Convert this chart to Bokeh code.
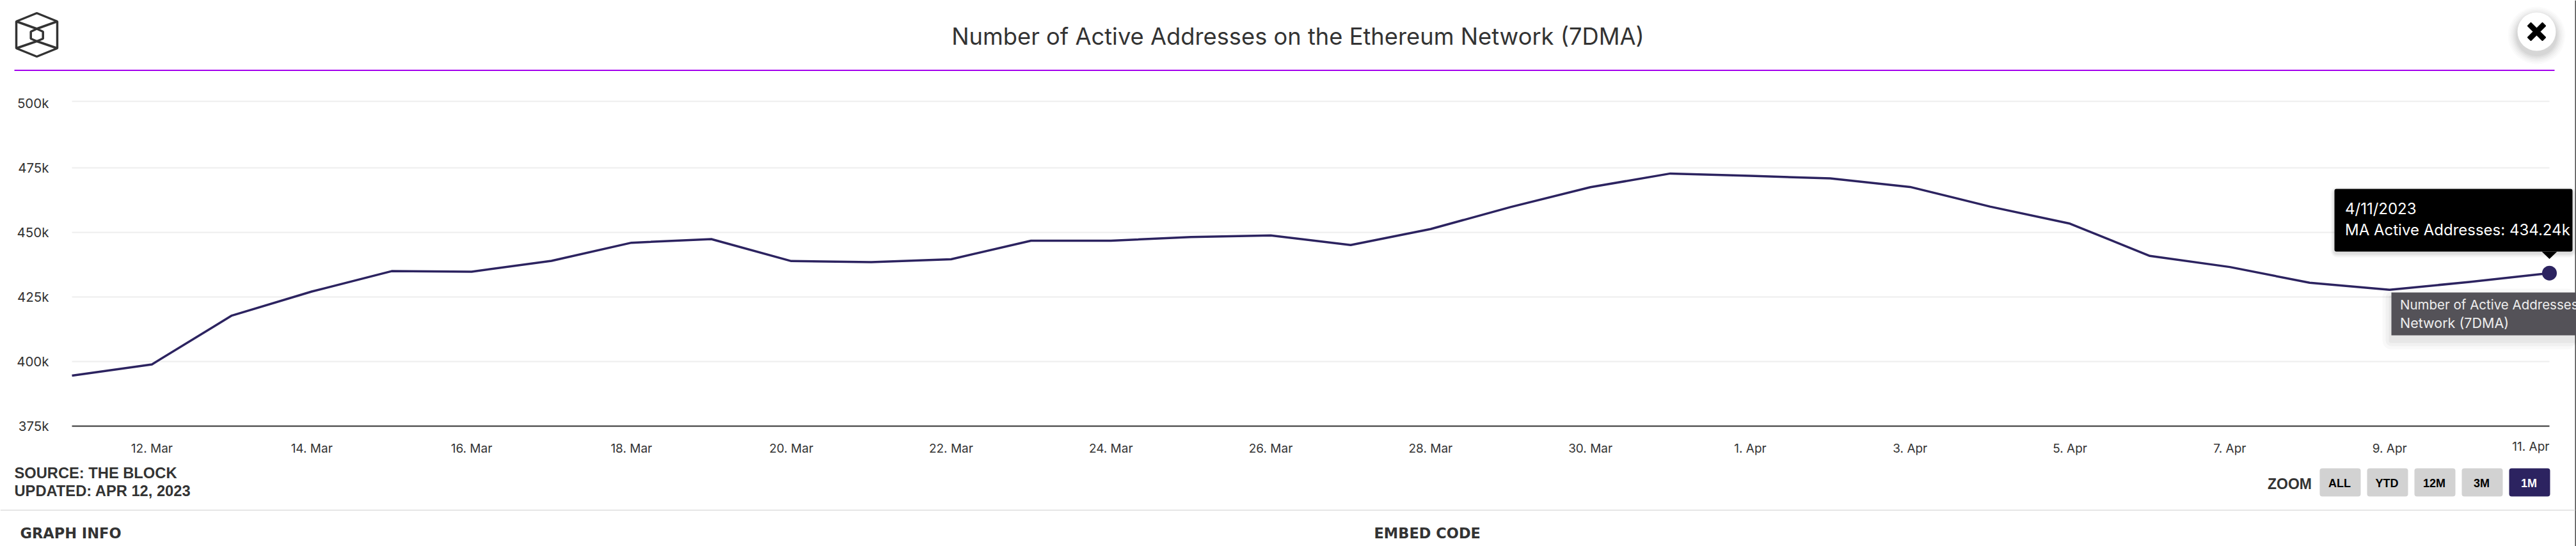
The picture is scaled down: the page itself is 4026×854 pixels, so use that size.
from bokeh.plotting import figure
from bokeh.models import (Range1d, LinearAxis, FixedTicker, Label, BoxAnnotation,
                          PolyAnnotation)
from bokeh.embed import file_html
from bokeh.resources import INLINE

# ---------- data ----------
day_index = list(range(32))  # 0 = 11 Mar 2023, 31 = 11 Apr 2023
active_addresses_k = [
    394.55, 398.9, 417.8, 427.1, 435.0, 434.8, 439.0, 446.0, 447.4, 438.9, 438.5, 439.6,
    446.8, 446.8, 448.2, 448.8, 445.1, 451.3, 459.8, 467.5, 472.8, 471.9, 470.9, 467.6,
    460.0, 453.4, 440.9, 436.6, 430.5, 427.8, 430.8, 434.24,
]
x_tick_index = [1, 3, 5, 7, 9, 11, 13, 15, 17, 19, 21, 23, 25, 27, 29]
x_tick_labels = ["12. Mar", "14. Mar", "16. Mar", "18. Mar", "20. Mar", "22. Mar", "24. Mar",
                 "26. Mar", "28. Mar", "30. Mar", "1. Apr", "3. Apr", "5. Apr", "7. Apr", "9. Apr"]
last_tick_label = "11. Apr"
y_ticks = [375, 400, 425, 450, 475, 500]
y_tick_labels = ["375k", "400k", "425k", "450k", "475k", "500k"]
grid_ticks = [400, 425, 450, 475, 500.74]
title_text = "Number of Active Addresses on the Ethereum Network (7DMA)"
tooltip_lines = ["4/11/2023", "MA Active Addresses: 434.24k"]
series_lines = ["Number of Active Addresses", "Network (7DMA)"]
zoom_buttons = ["ALL", "YTD", "12M", "3M", "1M"]

# ---------- style ----------
NAVY = "#2c2360"
INK = "#333333"
W, H = 4026, 854
OX, OY = 0, 0

# the frame fills the canvas; the ranges are chosen so the plot area sits at
# x 112..3984 and y 158..666, and everything else is drawn round it
PX_L, PX_R, PX_T, PX_B = 112, 3984, 158, 666
dx = (day_index[-1] - day_index[0]) / (PX_R - PX_L)
dy = (grid_ticks[-1] - y_ticks[0]) / (PX_B - PX_T)

p = figure(width=W, height=H, output_backend="svg", toolbar_location=None,
           x_axis_type=None, y_axis_type=None,
           x_range=Range1d(day_index[0] - PX_L * dx, day_index[-1] + (W - PX_R) * dx),
           y_range=Range1d(y_ticks[0] - (H - PX_B) * dy, grid_ticks[-1] + PX_T * dy),
           min_border=0, min_border_left=0, min_border_right=0, min_border_top=0, min_border_bottom=0,
           outline_line_color=None, background_fill_color="white", border_fill_color="white")

AXIS_FONT = "Inter"
p.segment(x0=[day_index[0]] * len(grid_ticks), x1=[day_index[-1]] * len(grid_ticks),
          y0=grid_ticks, y1=grid_ticks, line_color="#eeeeee", line_width=2)

xaxis = LinearAxis(ticker=FixedTicker(ticks=x_tick_index), fixed_location=y_ticks[0],
                   bounds=(day_index[0], day_index[-1]),
                   major_label_overrides=dict(zip(x_tick_index, x_tick_labels)),
                   axis_line_color=INK, axis_line_width=2,
                   major_tick_line_color=None, minor_tick_line_color=None,
                   major_label_text_font=AXIS_FONT, major_label_text_font_size="19px",
                   major_label_text_color=INK, major_label_standoff=17)
yaxis = LinearAxis(ticker=FixedTicker(ticks=y_ticks), fixed_location=day_index[0],
                   bounds=(y_ticks[0], y_ticks[-1]),
                   major_label_overrides=dict(zip(y_ticks, y_tick_labels)),
                   axis_line_color=None, major_tick_line_color=None, minor_tick_line_color=None,
                   major_label_text_font=AXIS_FONT, major_label_text_font_size="20.5px",
                   major_label_text_color=INK, major_label_standoff=30)
p.add_layout(xaxis, "below")
p.add_layout(yaxis, "left")

p.line(day_index, active_addresses_k, line_color=NAVY, line_width=3.5, line_join="round")
p.scatter(day_index[-1:], active_addresses_k[-1:], size=23, marker="circle", fill_color=NAVY,
          line_color=NAVY, line_width=0)


def box(l, t, r, b, color, alpha=1.0, radius=0):
    p.add_layout(BoxAnnotation(left=l - OX, right=r - OX, top=t - OY, bottom=b - OY,
                               left_units="canvas", right_units="canvas",
                               top_units="canvas", bottom_units="canvas",
                               fill_color=color, fill_alpha=alpha, line_color=None,
                               line_alpha=0, border_radius=int(round(radius))))


def poly(pts, fill=None, line=None, lw=1.0):
    p.add_layout(PolyAnnotation(xs=[a - OX for a, _ in pts], ys=[b - OY for _, b in pts],
                                xs_units="canvas", ys_units="canvas",
                                fill_color=fill, fill_alpha=1.0 if fill else 0.0,
                                line_color=line, line_width=lw, line_alpha=1.0 if line else 0.0))


def label(x, y, text, size, color=INK, font="Inter", style="normal", align="left"):
    p.add_layout(Label(x=x - OX, y=y - OY, x_units="canvas", y_units="canvas", text=text,
                       text_font=font, text_font_size=f"{size}px", text_color=color,
                       text_font_style=style, text_align=align, text_baseline="middle"))


# window edge
box(4024, 0, 4026, 854, "#4a4a4a")

# header
label(2028, 56, title_text, 36.3, align="center")
box(22, 108.5, 3992, 110.5, "#a200ee")

# logo
outer = [(57, 20), (89, 33), (89, 75), (57, 88), (25, 75), (25, 33)]
inner = [(57, 44.5), (66.7, 49), (66.7, 60), (57, 64), (47.7, 60), (47.7, 49)]
poly(outer, line=INK, lw=3.5)
poly(inner, line=INK, lw=3.5)
poly([(25, 33), (57, 44.5), (89, 33), (57, 44.5)], line=INK, lw=3.5)
poly([(25, 75), (57, 64), (89, 75), (57, 64)], line=INK, lw=3.5)

# close button
for i, a in enumerate([0.015, 0.02, 0.025, 0.03, 0.035, 0.04]):
    g = 15 - i * 2.5
    box(3934 - g, 19 - g + 6, 3994 + g, 79 + g + 6, "#000000", a, 30 + g)
box(3934, 19, 3994, 79, "#ffffff", 1, 30)
s, k = 14, 5
cx, cy = 3964, 49
poly([(cx - s, cy - s + k), (cx - s + k, cy - s), (cx, cy - k), (cx + s - k, cy - s), (cx + s, cy - s + k),
      (cx + k, cy), (cx + s, cy + s - k), (cx + s - k, cy + s), (cx, cy + k), (cx - s + k, cy + s),
      (cx - s, cy + s - k), (cx - k, cy)], fill="#000000", line="#000000", lw=1.5)

# last x label
label(3984, 698, last_tick_label, 19, align="right")

# tooltip
for i, a in enumerate([0.03, 0.04, 0.05]):
    g = 6 - i * 2
    box(3648 - g, 295 - g + 3, 4020 + g, 393 + g + 3, "#000000", a, 4 + g)
box(3648, 295, 4020, 393, "#000000", 1, 3)
poly([(3972, 393), (3996, 393), (3984, 404.5)], fill="#000000")
label(3664.5, 326, tooltip_lines[0], 24, color="#ffffff")
label(3664.5, 359, tooltip_lines[1], 24, color="#ffffff")

# series tooltip
for i, a in enumerate([0.025, 0.03, 0.04]):
    g = 14 - i * 5
    box(3737 - g, 457 - g + 8, 4026, 524 + g + 8, "#000000", a, g)
box(3737, 457, 4026, 524, "#545258")
label(3750.5, 476, series_lines[0], 20.5, color="#eeeeee")
label(3750.5, 504, series_lines[1], 21.5, color="#eeeeee")

# footer
label(22, 739, "SOURCE: THE BLOCK", 23.7, font="Liberation Sans", style="bold")
label(22, 767, "UPDATED: APR 12, 2023", 23.7, font="Liberation Sans", style="bold")
box(0, 796.5, 4024, 798.5, "#e6e6e6")
label(31, 833, "GRAPH INFO", 22.5, font="DejaVu Sans", style="bold")
label(2147, 833, "EMBED CODE", 22.5, font="DejaVu Sans", style="bold")

# zoom buttons
label(3543.5, 756, "ZOOM", 23, font="Liberation Sans", style="bold")
for i, name in enumerate(zoom_buttons):
    l = 3625 + i * 74
    active = name == "1M"
    box(l, 732, l + 64, 776, NAVY if active else "#d2d2d2", 1, 4)
    label(l + 31, 755.5, name, 18, color="#ffffff" if active else "#000000",
          font="Liberation Sans", style="bold", align="center")

open("out.html", "w").write(file_html(p, INLINE))
